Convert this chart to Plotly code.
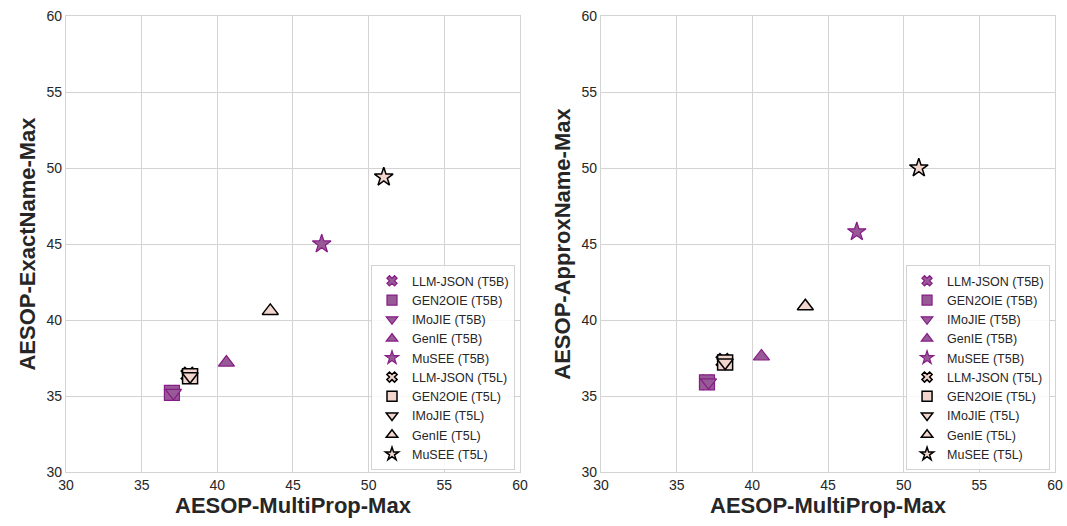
import plotly.graph_objects as go
from plotly.subplots import make_subplots

methods = ["LLM-JSON", "GEN2OIE", "IMoJIE", "GenIE", "MuSEE"]
symbols = ["x", "square", "triangle-down", "triangle-up", "star"]

t5b_multiprop = [37.0, 37.0, 37.1, 40.6, 46.9]
t5l_multiprop = [38.1, 38.2, 38.2, 43.5, 51.0]
t5b_exact = [35.2, 35.2, 35.2, 37.2, 45.0]
t5l_exact = [36.4, 36.3, 36.3, 40.6, 49.4]
t5b_approx = [35.9, 35.9, 35.9, 37.6, 45.8]
t5l_approx = [37.3, 37.2, 37.2, 40.9, 50.0]

ticks = [30, 35, 40, 45, 50, 55, 60]

B_FILL = "#985a96"
B_EDGE = "#861c86"
L_FILL = "#f2d5cd"
L_EDGE = "#000000"
FONT = "Liberation Sans, Arial, sans-serif"

SIZES = {"x": 13, "square": 15, "triangle-down": 14, "triangle-up": 14, "star": 14}
LEG_SIZES = {"x": 9, "square": 10, "triangle-down": 10, "triangle-up": 10, "star": 10}

fig = make_subplots(rows=1, cols=2, horizontal_spacing=0.082)

panels = [
    (1, t5b_exact, t5l_exact, "legend"),
    (2, t5b_approx, t5l_approx, "legend2"),
]

for col, yb, yl, leg in panels:
    groups = [("T5B", t5b_multiprop, yb, B_FILL, B_EDGE, 1.2),
              ("T5L", t5l_multiprop, yl, L_FILL, L_EDGE, 1.5)]
    for tag, xs, ys, fill, edge, lw in groups:
        for i, m in enumerate(methods):
            s = symbols[i]
            fig.add_trace(go.Scatter(
                x=[xs[i]], y=[ys[i]], mode="markers", showlegend=False,
                marker=dict(symbol=s, size=SIZES[s], color=fill, line=dict(color=edge, width=lw)),
                hoverinfo="skip",
            ), row=1, col=col)
    # legend-only entries with smaller symbols
    for tag, xs, ys, fill, edge, lw in groups:
        for i, m in enumerate(methods):
            s = symbols[i]
            fig.add_trace(go.Scatter(
                x=[None], y=[None], mode="markers", name=f"{m} ({tag})", legend=leg,
                marker=dict(symbol=s, size=LEG_SIZES[s], color=fill, line=dict(color=edge, width=lw)),
            ), row=1, col=col)

axis_common = dict(
    range=[30, 60], tickvals=ticks, showgrid=True, gridcolor="#d3d3d3", gridwidth=1.2,
    zeroline=False, showline=True, linecolor="#d3d3d3", linewidth=1.2, mirror=True,
    ticks="", tickfont=dict(family=FONT, size=14, color="#262626"), automargin=False,
    ticklabeloverflow="allow",
)
title_font = dict(family=FONT, size=22, color="#262626")

fig.update_xaxes(**axis_common)
fig.update_yaxes(**axis_common)
fig.update_xaxes(title=dict(text="<b>AESOP-MultiProp-Max</b>", font=title_font, standoff=4))
fig.update_yaxes(title=dict(text="<b>AESOP-ExactName-Max</b>", font=title_font, standoff=4), row=1, col=1)
fig.update_yaxes(title=dict(text="<b>AESOP-ApproxName-Max</b>", font=title_font, standoff=4), row=1, col=2)

leg_common = dict(
    yanchor="bottom", xanchor="right", y=0.004,
    bgcolor="rgba(255,255,255,0.85)", bordercolor="#d3d3d3", borderwidth=1,
    font=dict(family=FONT, size=12.5, color="#262626"),
    tracegroupgap=0, itemsizing="trace",
)

fig.update_layout(
    width=1067, height=526,
    margin=dict(l=66, r=12, t=16, b=54),
    plot_bgcolor="white", paper_bgcolor="white",
    font=dict(family=FONT, color="#262626"),
    legend=dict(x=0.454, **leg_common),
    legend2=dict(x=0.995, **leg_common),
)

fig.write_html(
    "out.html",
    config={"displayModeBar": False},
    post_script="document.body.style.margin='0px';document.body.style.overflow='hidden';",
)
